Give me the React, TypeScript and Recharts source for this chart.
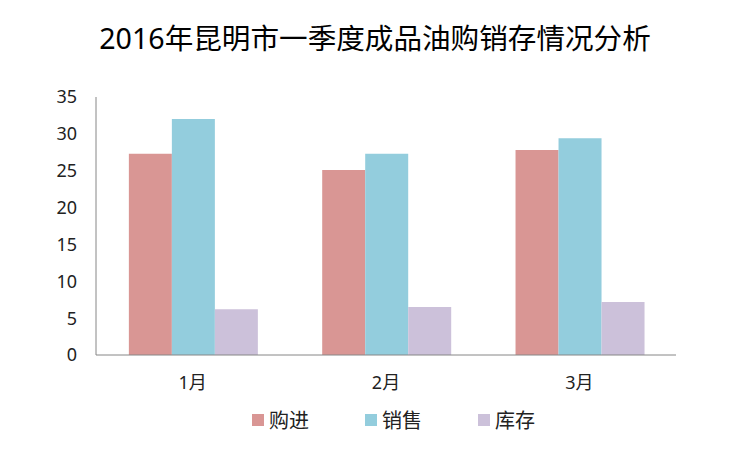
import React from 'react'
import { BarChart, Bar, XAxis, YAxis, Legend } from 'recharts'

const months = ['1月', '2月', '3月']
const purchase = [27.3, 25.1, 27.8]
const sales = [32.0, 27.3, 29.4]
const stock = [6.2, 6.5, 7.2]
const yTicks = [0, 5, 10, 15, 20, 25, 30, 35]

const FONT = '"Noto Sans", "Noto Sans CJK SC", sans-serif'

const SERIES = [
  { key: 'purchase', name: '购进', color: '#D99694' },
  { key: 'sales', name: '销售', color: '#93CDDD' },
  { key: 'stock', name: '库存', color: '#CCC1DA' },
]

const data = months.map((month, i) => ({
  month,
  purchase: purchase[i],
  sales: sales[i],
  stock: stock[i],
}))

const LegendContent = () => (
  <div
    style={{
      display: 'flex',
      justifyContent: 'center',
      gap: 56,
      paddingLeft: 65,
      fontFamily: FONT,
      fontSize: 20,
      color: '#222',
    }}
  >
    {SERIES.map((s) => (
      <div key={s.key} style={{ display: 'flex', alignItems: 'center' }}>
        <span style={{ width: 12, height: 12, background: s.color, marginRight: 5, display: 'inline-block' }} />
        {s.name}
      </div>
    ))}
  </div>
)

export default function App() {
  return (
    <div style={{ position: 'fixed', left: 0, top: 0, width: 750, height: 450, background: '#fff', fontFamily: FONT }}>
      <div
        style={{
          position: 'absolute',
          top: 16,
          left: 0,
          width: 750,
          textAlign: 'center',
          fontSize: 28.6,
          color: '#000',
        }}
      >
        2016年昆明市一季度成品油购销存情况分析
      </div>
      <BarChart
        width={750}
        height={450}
        data={data}
        margin={{ top: 97, right: 74, left: 46, bottom: 0 }}
        barCategoryGap="17%"
        barGap={0}
      >
        <XAxis
          dataKey="month"
          tickLine={false}
          tickSize={0}
          tickMargin={21}
          height={60}
          axisLine={{ stroke: '#868686' }}
          tick={{ fill: '#222', fontSize: 18, fontFamily: FONT }}
        />
        <YAxis
          domain={[0, 35]}
          ticks={yTicks}
          width={50}
          tickLine={false}
          tickSize={0}
          tickMargin={19}
          axisLine={{ stroke: '#868686' }}
          tick={{ fill: '#222', fontSize: 18, fontFamily: FONT }}
        />
        <Legend verticalAlign="bottom" height={35} wrapperStyle={{ top: 405 }} content={<LegendContent />} />
        {SERIES.map((s) => (
          <Bar key={s.key} dataKey={s.key} name={s.name} fill={s.color} isAnimationActive={false} />
        ))}
      </BarChart>
    </div>
  )
}
